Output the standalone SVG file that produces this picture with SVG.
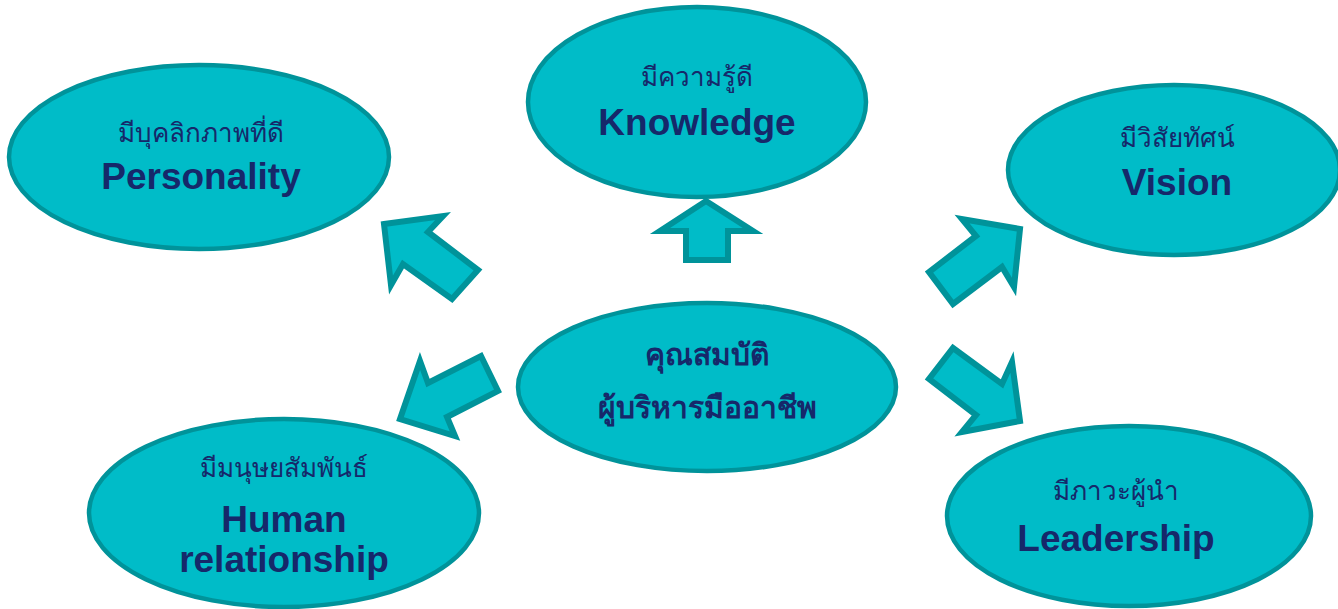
<svg xmlns="http://www.w3.org/2000/svg" width="1338" height="609" viewBox="0 0 1338 609">
<style>
.node{fill:#00BCC8;stroke:#00939A;stroke-width:4.5}
.arrow{fill:#00BCC8;stroke:#00939A;stroke-width:6;stroke-linejoin:miter}
.th{font-family:"Liberation Sans","DejaVu Sans","Noto Sans",sans-serif;font-size:26px;fill:#16286A;text-anchor:middle}
.en{font-family:"Liberation Sans","Noto Sans",sans-serif;font-size:37px;font-weight:bold;fill:#16286A;text-anchor:middle}
.cth{font-family:"Liberation Sans","DejaVu Sans","Noto Sans",sans-serif;font-size:30px;font-weight:bold;fill:#16286A;text-anchor:middle}
</style>
<rect width="1338" height="609" fill="#ffffff"/>
<g id="connectors">
<polygon class="arrow" points="706,201 753,231 728,231 728,260 686,260 686,231 660,231"/>
<polygon class="arrow" points="384,224 443,216 428,232 478,270 452,299 403,264 391,285"/>
<polygon class="arrow" points="1020,229 1014,287 1002,267 953,304 929,272 976,236 962,219"/>
<polygon class="arrow" points="400,419 420,361 428,383 481,356 498,391 447,417 455,436"/>
<polygon class="arrow" points="1020,421 1012,362 1002,384 953,348 929,379 976,415 962,432"/>
</g>
<g id="center">
<ellipse class="node" cx="707" cy="387" rx="189" ry="84"/>
<text class="cth" x="707" y="365">คุณสมบัติ</text>
<text class="cth" x="707" y="418">ผู้บริหารมืออาชีพ</text>
</g>
<g id="personality">
<ellipse class="node" cx="199" cy="157" rx="190" ry="92"/>
<text class="th" x="201" y="142">มีบุคลิกภาพที่ดี</text>
<text class="en" x="201" y="189">Personality</text>
</g>
<g id="knowledge">
<ellipse class="node" cx="697" cy="102" rx="169" ry="95"/>
<text class="th" x="697" y="86">มีความรู้ดี</text>
<text class="en" x="697" y="135">Knowledge</text>
</g>
<g id="vision">
<ellipse class="node" cx="1174" cy="170" rx="166" ry="85"/>
<text class="th" x="1177" y="147">มีวิสัยทัศน์</text>
<text class="en" x="1177" y="195">Vision</text>
</g>
<g id="human">
<ellipse class="node" cx="284" cy="513" rx="195" ry="94"/>
<text class="th" x="284" y="477">มีมนุษยสัมพันธ์</text>
<text class="en" x="284" y="532">Human</text>
<text class="en" x="284" y="572">relationship</text>
</g>
<g id="leadership">
<ellipse class="node" cx="1129" cy="516" rx="182" ry="90"/>
<text class="th" x="1116" y="500">มีภาวะผู้นำ</text>
<text class="en" x="1116" y="551">Leadership</text>
</g>
</svg>
